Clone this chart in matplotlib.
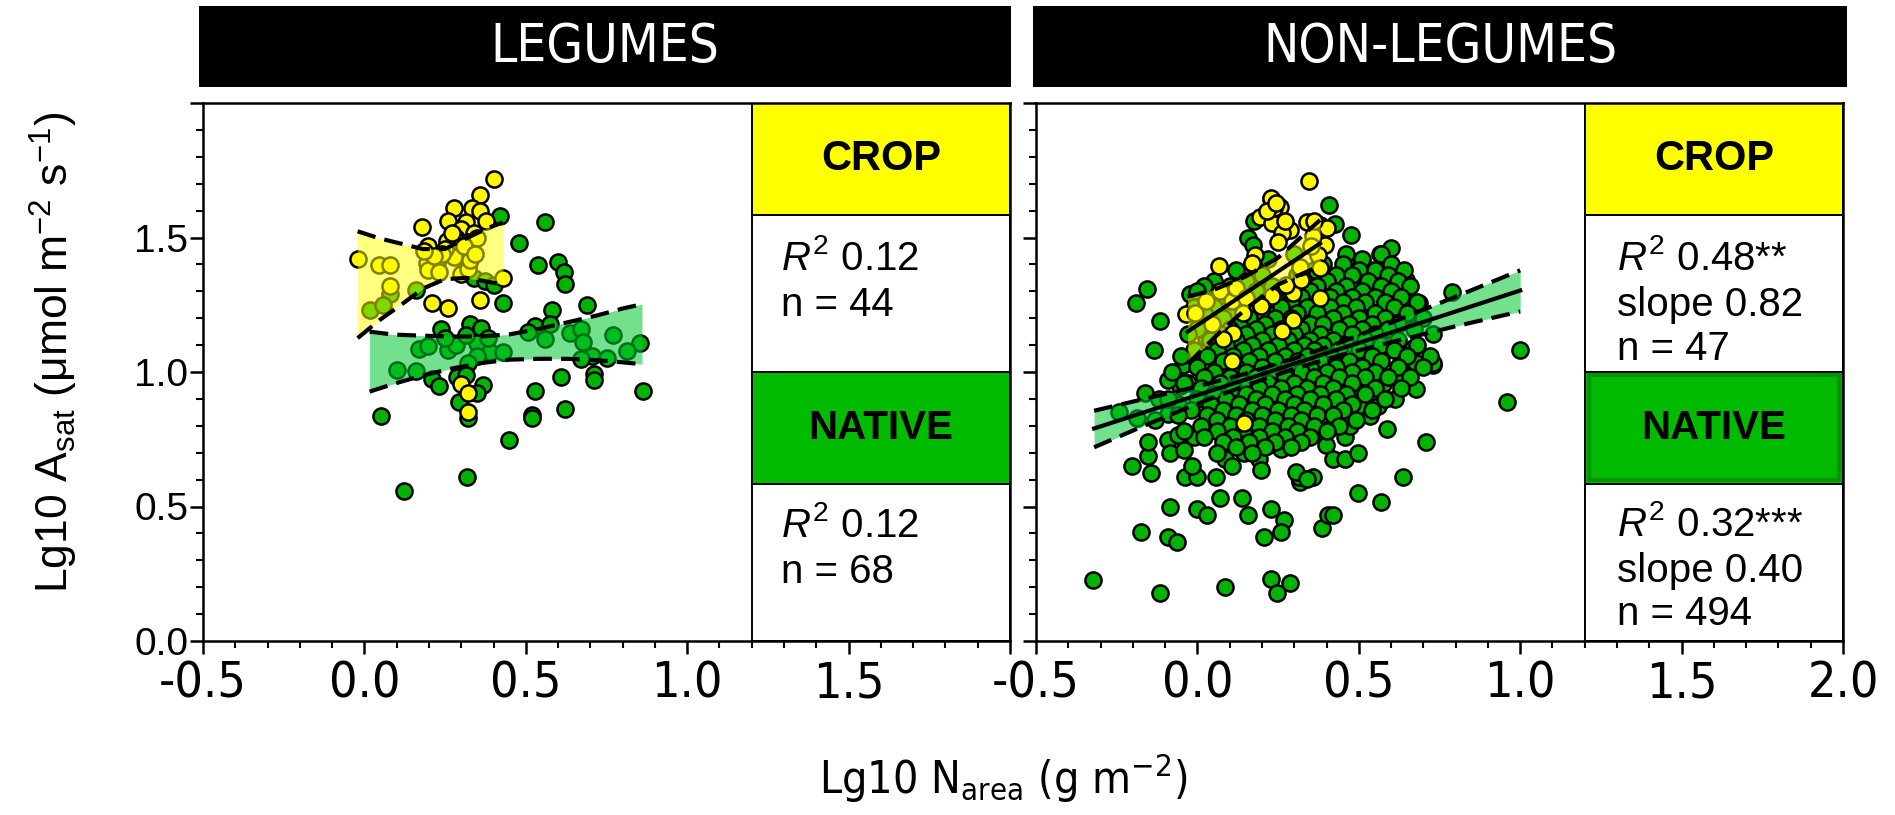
import numpy as np
import matplotlib
matplotlib.use('Agg')
import matplotlib.pyplot as plt
from matplotlib import font_manager as fm
from matplotlib.font_manager import FontProperties
from matplotlib.patches import Rectangle
from matplotlib.ticker import MultipleLocator


def has_font(name):
    try:
        fm.findfont(FontProperties(family=name), fallback_to_default=False)
        return True
    except Exception:
        return False


def find_narrow_file():
    best = None
    best_rank = 99
    prefs = ['liberation', 'arial', 'nimbus', 'dejavu', 'noto sans', 'roboto', 'open sans', 'lato']
    for f in fm.fontManager.ttflist:
        fn = f.fname.lower()
        nm = f.name.lower()
        narrow = ('narrow' in fn or 'condensed' in fn or 'narrow' in nm or 'condensed' in nm
                  or str(f.stretch).lower() in ('condensed', 'semi-condensed'))
        if not narrow:
            continue
        if 'bold' in fn or 'italic' in fn or 'oblique' in fn or 'light' in fn or 'black' in fn \
                or 'thin' in fn or 'medium' in fn or 'semi' in fn or 'extra' in fn:
            continue
        if f.style != 'normal':
            continue
        rank = len(prefs)
        for i, p in enumerate(prefs):
            if p in nm or p.replace(' ', '') in fn:
                rank = i
                break
        if rank < best_rank:
            best_rank = rank
            best = f.fname
    return best


SANS = 'Liberation Sans' if has_font('Liberation Sans') else 'DejaVu Sans'
NARROW_FILE = find_narrow_file()
HAVE_NARROW = NARROW_FILE is not None


def narrow_fp(size):
    if HAVE_NARROW:
        return FontProperties(fname=NARROW_FILE, size=size)
    return FontProperties(family=SANS, size=size)


plt.rcParams['font.family'] = [SANS, 'DejaVu Sans']
plt.rcParams['mathtext.fontset'] = 'custom'
plt.rcParams['mathtext.rm'] = SANS
plt.rcParams['mathtext.it'] = SANS + ':italic'
plt.rcParams['mathtext.bf'] = SANS + ':bold'

# ---------------- data ----------------
panel_titles = ['LEGUMES', 'NON-LEGUMES']
x_tick_vals = [-0.5, 0.0, 0.5, 1.0, 1.5, 2.0]
x_tick_labels_left = ['-0.5', '0.0', '0.5', '1.0', '1.5', '']
x_tick_labels_right = ['-0.5', '0.0', '0.5', '1.0', '1.5', '2.0']
y_tick_vals = [0.0, 0.5, 1.0, 1.5, 2.0]
y_tick_labels = ['0.0', '0.5', '1.0', '1.5', '']

# Legumes - crop (yellow)
leg_crop_x = [0.401, 0.359, 0.279, 0.333, 0.359, 0.260, 0.316, 0.378, 0.178, 0.300,
              0.339, 0.283, 0.255, 0.198, 0.316, 0.277, -0.021, 0.046, 0.078, 0.193,
              0.226, 0.198, 0.232, 0.300, 0.322, 0.429, 0.078, 0.209, 0.260, 0.359,
              0.300, 0.320, 0.320, 0.249, 0.294, 0.328, 0.322, 0.271, 0.350, 0.240,
              0.310, 0.216, 0.344, 0.185]
leg_crop_y = [1.719, 1.658, 1.609, 1.609, 1.600, 1.560, 1.556, 1.563, 1.539, 1.530,
              1.517, 1.497, 1.486, 1.470, 1.457, 1.428, 1.420, 1.397, 1.397, 1.407,
              1.407, 1.380, 1.371, 1.364, 1.384, 1.351, 1.318, 1.258, 1.238, 1.269,
              0.956, 0.921, 0.852, 1.457, 1.483, 1.417, 1.483, 1.517, 1.497, 1.440,
              1.470, 1.430, 1.440, 1.450]

# Legumes - native (green)
leg_nat_x = [0.420, 0.561, 0.480, 0.538, 0.600, 0.617, 0.620, 0.429, 0.581, 0.690,
             0.328, 0.361, 0.238, 0.530, 0.575, 0.508, 0.558, 0.637, 0.671, 0.770,
             0.677, 0.854, 0.812, 0.705, 0.671, 0.752, 0.350, 0.390, 0.429, 0.350,
             0.322, 0.170, 0.198, 0.260, 0.283, 0.100, 0.159, 0.209, 0.232, 0.288,
             0.316, 0.367, 0.350, 0.294, 0.320, 0.609, 0.711, 0.711, 0.863, 0.530,
             0.620, 0.519, 0.519, 0.050, 0.449, 0.319, 0.122, 0.078, 0.159, 0.016,
             0.057, 0.322, 0.339, 0.373, 0.401, 0.249, 0.316, 0.384]
leg_nat_y = [1.579, 1.559, 1.481, 1.397, 1.408, 1.371, 1.328, 1.258, 1.232, 1.249,
             1.179, 1.163, 1.159, 1.172, 1.179, 1.150, 1.122, 1.146, 1.159, 1.139,
             1.113, 1.109, 1.079, 1.060, 1.049, 1.053, 1.106, 1.073, 1.073, 1.060,
             1.033, 1.086, 1.097, 1.083, 1.102, 1.009, 1.004, 0.974, 0.947, 0.980,
             0.987, 0.951, 0.921, 0.887, 0.828, 0.980, 0.993, 0.970, 0.930, 0.930,
             0.861, 0.841, 0.828, 0.838, 0.748, 0.609, 0.559, 1.291, 1.305, 1.232,
             1.248, 1.397, 1.351, 1.338, 1.325, 1.126, 1.139, 1.126]

# Legumes confidence bands
leg_crop_ci_x = [-0.021, 0.046, 0.114, 0.181, 0.249, 0.316, 0.384, 0.429]
leg_crop_ci_hi = [1.523, 1.497, 1.477, 1.457, 1.457, 1.497, 1.536, 1.556]
leg_crop_ci_lo = [1.126, 1.192, 1.250, 1.310, 1.345, 1.350, 1.335, 1.325]
leg_nat_ci_x = [0.016, 0.091, 0.181, 0.271, 0.361, 0.450, 0.540, 0.630, 0.720, 0.800, 0.860]
leg_nat_ci_hi = [1.150, 1.139, 1.135, 1.132, 1.132, 1.140, 1.160, 1.185, 1.210, 1.236, 1.252]
leg_nat_ci_lo = [0.927, 0.956, 0.987, 1.013, 1.033, 1.046, 1.049, 1.049, 1.044, 1.036, 1.029]

# Non-legumes - crop (yellow)
nl_crop_x = [0.347, 0.227, 0.255, 0.193, 0.230, 0.286, 0.261, 0.250, 0.338, 0.178,
             0.168, 0.068, -0.034, 0.297, 0.230, 0.198, 0.297, 0.261, 0.111, 0.080,
             0.106, 0.276, 0.379, 0.400, 0.395, 0.374, 0.379, 0.322, 0.322, 0.379,
             0.358, 0.144, 0.318, 0.362, 0.236, -0.008, 0.028, 0.070, 0.106, 0.121,
             0.152, 0.045, 0.140, 0.215, 0.245, 0.352, 0.270]
nl_crop_y = [1.709, 1.646, 1.615, 1.578, 1.553, 1.528, 1.516, 1.485, 1.559, 1.436,
             1.405, 1.393, 1.214, 1.294, 1.282, 1.245, 1.195, 1.152, 1.146, 1.121,
             1.041, 1.325, 1.547, 1.535, 1.473, 1.436, 1.386, 1.374, 1.343, 1.275,
             1.504, 0.811, 1.391, 1.563, 1.609, 1.220, 1.263, 1.300, 1.263, 1.313,
             1.275, 1.180, 1.220, 1.600, 1.630, 1.470, 1.560]

# Non-legumes - native (green): scattered outer points
nl_nat_outer_x = [-0.323, -0.117, 0.087, 0.227, 0.288, 0.247, -0.174, -0.092, -0.062, -0.085,
                  -0.002, 0.030, 0.069, 0.137, 0.158, 0.227, 0.267, 0.259, 0.206, 0.387,
                  0.404, 0.419, 0.496, 0.568, 0.637, 0.708, 0.318, 0.316, 0.359, 0.307,
                  0.057, -0.037, -0.002, -0.016, -0.145, -0.203, -0.154, -0.154, -0.092, -0.085,
                  -0.042, -0.060, -0.011, 0.018, 0.087, 0.107, 0.144, 0.190, 0.196, 0.221,
                  0.259, 0.316, 0.359, 0.399, 0.419, 0.456, 0.496, 0.456, 0.408, 0.588,
                  0.611, 0.677, 0.576, 0.611, 0.679, 0.731, 0.668, 0.628, 1.000, 0.960,
                  -0.243, -0.163, -0.186, -0.134, -0.117, -0.191, -0.155, -0.023, -0.046, -0.054,
                  0.408, 0.427, 0.477, 0.565, 0.599, 0.645, 0.576, 0.788, 0.685, 0.507,
                  0.536, 0.444, 0.450, 0.502, 0.158, 0.173, 0.227, 0.175, 0.472, 0.441,
                  0.410, 0.477, 0.508, 0.534, 0.560, 0.575, 0.400, 0.338, 0.488, 0.338,
                  -0.090, -0.120, -0.060, -0.030, -0.090, 0.026, 0.061, 0.000, 0.090, 0.730,
                  0.678]
nl_nat_outer_y = [0.228, 0.179, 0.199, 0.229, 0.216, 0.179, 0.407, 0.388, 0.367, 0.499,
                  0.490, 0.468, 0.530, 0.530, 0.468, 0.490, 0.450, 0.407, 0.388, 0.420,
                  0.470, 0.468, 0.550, 0.517, 0.609, 0.739, 0.592, 0.609, 0.609, 0.629,
                  0.609, 0.609, 0.609, 0.649, 0.626, 0.649, 0.689, 0.738, 0.748, 0.699,
                  0.709, 0.766, 0.758, 0.791, 0.678, 0.649, 0.699, 0.678, 0.636, 0.728,
                  0.715, 0.748, 0.777, 0.728, 0.678, 0.678, 0.698, 0.758, 0.788, 0.788,
                  0.898, 0.938, 0.983, 0.989, 1.026, 1.026, 1.089, 1.026, 1.081, 0.887,
                  0.850, 0.923, 0.830, 1.082, 1.189, 1.256, 1.309, 1.289, 1.026, 0.947,
                  1.619, 1.550, 1.510, 1.440, 1.461, 1.342, 1.321, 1.298, 1.258, 1.400,
                  1.381, 1.351, 1.318, 1.360, 1.497, 1.473, 1.642, 1.563, 0.800, 0.831,
                  0.862, 0.880, 0.862, 0.837, 0.874, 0.954, 0.930, 0.893, 0.942, 0.603,
                  0.845, 0.900, 0.880, 0.960, 0.970, 1.126, 1.179, 1.160, 1.200, 1.035,
                  1.035]

# Non-legumes - native (green): dense core, rows of (y, x values)
nl_nat_core_rows = [
    (1.44, [0.30, 0.46, 0.57]),
    (1.42, [0.22, 0.51]),
    (1.40, [0.17, 0.39, 0.45, 0.60]),
    (1.38, [0.12, 0.36, 0.50, 0.55, 0.64]),
    (1.36, [0.20, 0.31, 0.43, 0.48, 0.59]),
    (1.34, [0.05, 0.15, 0.33, 0.40, 0.53, 0.62]),
    (1.32, [0.02, 0.10, 0.23, 0.37, 0.46, 0.57, 0.66]),
    (1.30, [0.00, 0.18, 0.27, 0.35, 0.43, 0.51, 0.60]),
    (1.28, [0.06, 0.13, 0.24, 0.32, 0.41, 0.48, 0.55, 0.63]),
    (1.26, [0.09, 0.21, 0.29, 0.38, 0.45, 0.52, 0.58, 0.68]),
    (1.24, [-0.01, 0.05, 0.16, 0.26, 0.34, 0.41, 0.49, 0.61]),
    (1.22, [0.02, 0.11, 0.20, 0.31, 0.37, 0.45, 0.55, 0.65]),
    (1.20, [0.08, 0.16, 0.24, 0.29, 0.42, 0.50, 0.58, 0.70]),
    (1.18, [0.04, 0.13, 0.21, 0.35, 0.39, 0.47, 0.54, 0.62]),
    (1.16, [0.00, 0.10, 0.18, 0.26, 0.32, 0.44, 0.51, 0.59, 0.67]),
    (1.14, [-0.03, 0.07, 0.15, 0.23, 0.30, 0.38, 0.48, 0.55, 0.73]),
    (1.12, [0.04, 0.12, 0.20, 0.28, 0.35, 0.42, 0.52, 0.62]),
    (1.10, [0.09, 0.17, 0.25, 0.33, 0.39, 0.46, 0.57, 0.68]),
    (1.08, [-0.01, 0.06, 0.14, 0.22, 0.30, 0.36, 0.44, 0.50, 0.61]),
    (1.06, [-0.05, 0.03, 0.11, 0.19, 0.27, 0.34, 0.41, 0.54, 0.65, 0.72]),
    (1.04, [0.08, 0.16, 0.24, 0.31, 0.38, 0.47, 0.57]),
    (1.02, [0.00, 0.12, 0.20, 0.28, 0.35, 0.43, 0.51, 0.62, 0.70]),
    (1.00, [-0.08, 0.05, 0.15, 0.23, 0.32, 0.40, 0.48, 0.55]),
    (0.98, [0.02, 0.10, 0.18, 0.27, 0.36, 0.44, 0.52, 0.59, 0.66]),
    (0.96, [-0.04, 0.07, 0.14, 0.22, 0.30, 0.39, 0.48]),
    (0.94, [0.01, 0.11, 0.19, 0.26, 0.34, 0.42, 0.55, 0.63]),
    (0.92, [0.05, 0.15, 0.23, 0.31, 0.38, 0.46, 0.52]),
    (0.90, [-0.09, 0.00, 0.09, 0.18, 0.27, 0.35, 0.43, 0.58]),
    (0.88, [0.04, 0.13, 0.21, 0.30, 0.39, 0.48]),
    (0.86, [-0.02, 0.08, 0.17, 0.25, 0.33, 0.45, 0.54]),
    (0.84, [-0.06, 0.03, 0.12, 0.20, 0.29, 0.37, 0.42]),
    (0.82, [-0.13, 0.06, 0.15, 0.24, 0.32, 0.49]),
    (0.80, [0.01, 0.10, 0.19, 0.28, 0.36, 0.44]),
    (0.78, [-0.04, 0.06, 0.14, 0.23, 0.31, 0.40]),
    (0.76, [0.02, 0.11, 0.19, 0.27, 0.35]),
    (0.74, [0.08, 0.16, 0.24, 0.32]),
    (0.72, [0.12, 0.21, 0.29]),
    (0.70, [0.06, 0.17]),
]

# Non-legume fits and confidence bands
nl_crop_ci_x = [-0.03, 0.05, 0.15, 0.25, 0.38]
nl_crop_fit = [1.150, 1.214, 1.294, 1.374, 1.478]
nl_crop_ci_hi = [1.280, 1.305, 1.355, 1.425, 1.565]
nl_crop_ci_lo = [1.030, 1.125, 1.235, 1.325, 1.395]
nl_nat_ci_x = [-0.32, -0.15, 0.0, 0.15, 0.30, 0.45, 0.60, 0.80, 1.0]
nl_nat_fit = [0.790, 0.856, 0.914, 0.972, 1.031, 1.089, 1.147, 1.225, 1.303]
nl_nat_ci_hi = [0.856, 0.904, 0.946, 0.994, 1.050, 1.113, 1.183, 1.280, 1.378]
nl_nat_ci_lo = [0.720, 0.808, 0.882, 0.950, 1.012, 1.065, 1.111, 1.170, 1.225]

# Statistics boxes
leg_crop_stats = [r'$R^2$ 0.12', 'n = 44']
leg_nat_stats = [r'$R^2$ 0.12', 'n = 68']
nl_crop_stats = [r'$R^2$ 0.48**', 'slope 0.82', 'n = 47']
nl_nat_stats = [r'$R^2$ 0.32***', 'slope 0.40', 'n = 494']

# ---------------- style ----------------
GREEN_PT = '#00B300'
YELLOW_PT = '#FFF700'
BOX_YELLOW = '#FFFF00'
BOX_GREEN = '#00BB00'
BAND_YELLOW = '#FFFF00'
BAND_GREEN = '#00C832'
MS = 135
LW_SPINE = 1.8
DASH = (0, (4.5, 2.2))

if HAVE_NARROW:
    HEADER_SIZE, XTICK_SIZE, XLABEL_SIZE = 38, 36, 32
else:
    HEADER_SIZE, XTICK_SIZE, XLABEL_SIZE = 35, 32, 30

W, H = 1895, 815
fig = plt.figure(figsize=(W / 100, H / 100), dpi=100)

axL = fig.add_axes([203 / W, 174 / H, 807 / W, 538 / H])
axR = fig.add_axes([1036 / W, 174 / H, 807 / W, 538 / H])

# header bars
for (x0, x1), title in zip([(199, 1011), (1033, 1847)], panel_titles):
    fig.patches.append(Rectangle((x0 / W, 1 - 87 / H), (x1 - x0) / W, 81 / H,
                                 transform=fig.transFigure, facecolor='black',
                                 edgecolor='none', zorder=0))
    fig.text((x0 + x1) / 2 / W, 1 - 47 / H, title, color='white', ha='center',
             va='center', fontproperties=narrow_fp(HEADER_SIZE))


def style_axes(ax, xlabels, show_y):
    ax.set_xlim(-0.5, 2.0)
    ax.set_ylim(0, 2.0)
    for s in ax.spines.values():
        s.set_linewidth(LW_SPINE)
        s.set_zorder(10)
    ax.set_xticks(x_tick_vals)
    ax.set_xticklabels(xlabels, fontproperties=narrow_fp(XTICK_SIZE))
    ax.set_yticks(y_tick_vals)
    if show_y:
        ax.set_yticklabels(y_tick_labels, fontsize=28)
    else:
        ax.set_yticklabels([''] * len(y_tick_vals))
    ax.xaxis.set_minor_locator(MultipleLocator(0.1))
    ax.yaxis.set_minor_locator(MultipleLocator(0.1))
    ax.tick_params(which='major', direction='out', length=9.5, width=1.8)
    ax.tick_params(which='minor', direction='out', length=5, width=1.5)
    ax.tick_params(axis='x', which='major', pad=4)
    ax.tick_params(axis='y', which='major', pad=1)
    ax.tick_params(top=False, right=False)


def stats_boxes(ax, crop_lines, nat_lines, crop_base, nat_base, tx, nat_border=False):
    ax.add_patch(Rectangle((1.2, 1.585), 0.8, 0.415, facecolor=BOX_YELLOW,
                           edgecolor='black', lw=1.4, zorder=6))
    ax.add_patch(Rectangle((1.2, 1.0), 0.8, 0.585, facecolor='white',
                           edgecolor='black', lw=1.4, zorder=6))
    ax.add_patch(Rectangle((1.2, 0.585), 0.8, 0.415, facecolor=BOX_GREEN,
                           edgecolor='black', lw=1.4, zorder=6))
    if nat_border:
        ax.add_patch(Rectangle((1.212, 0.597), 0.776, 0.391, facecolor='none',
                               edgecolor='#009400', lw=3, zorder=6.5))
    ax.add_patch(Rectangle((1.2, 0.0), 0.8, 0.585, facecolor='white',
                           edgecolor='black', lw=1.4, zorder=6))
    ax.text(1.6, 1.79, 'CROP', ha='center', va='center', fontsize=30,
            fontweight='bold', zorder=7)
    ax.text(1.6, 0.79, 'NATIVE', ha='center', va='center', fontsize=29,
            fontweight='bold', zorder=7)
    for line, yb in zip(crop_lines, crop_base):
        ax.text(tx, yb, line, ha='left', va='baseline', fontsize=29, zorder=7)
    for line, yb in zip(nat_lines, nat_base):
        ax.text(tx, yb, line, ha='left', va='baseline', fontsize=29, zorder=7)


# ---------------- left panel ----------------
style_axes(axL, x_tick_labels_left, True)
axL.scatter(leg_nat_x, leg_nat_y, s=MS, facecolor=GREEN_PT, edgecolor='black',
            linewidth=1.8, zorder=2)
axL.scatter(leg_crop_x, leg_crop_y, s=MS, facecolor=YELLOW_PT, edgecolor='black',
            linewidth=1.8, zorder=2.5)
axL.fill_between(leg_crop_ci_x, leg_crop_ci_lo, leg_crop_ci_hi, color=BAND_YELLOW,
                 alpha=0.5, lw=0, zorder=3)
axL.fill_between(leg_nat_ci_x, leg_nat_ci_lo, leg_nat_ci_hi, color=BAND_GREEN,
                 alpha=0.55, lw=0, zorder=3)
for xs, ys in [(leg_crop_ci_x, leg_crop_ci_hi), (leg_crop_ci_x, leg_crop_ci_lo),
               (leg_nat_ci_x, leg_nat_ci_hi), (leg_nat_ci_x, leg_nat_ci_lo)]:
    axL.plot(xs, ys, color='black', lw=3, linestyle=DASH, zorder=4)
stats_boxes(axL, leg_crop_stats, leg_nat_stats, [1.378, 1.209], [0.385, 0.215], 1.29)

# ---------------- right panel ----------------
style_axes(axR, x_tick_labels_right, False)
core_x = [x for yv, xs in nl_nat_core_rows for x in xs]
core_y = [yv for yv, xs in nl_nat_core_rows for x in xs]
axR.scatter(nl_nat_outer_x + core_x, nl_nat_outer_y + core_y, s=MS, facecolor=GREEN_PT,
            edgecolor='black', linewidth=1.8, zorder=2)
axR.scatter(nl_crop_x, nl_crop_y, s=MS, facecolor=YELLOW_PT, edgecolor='black',
            linewidth=1.8, zorder=2.5)
axR.fill_between(nl_crop_ci_x, nl_crop_ci_lo, nl_crop_ci_hi, color=BAND_YELLOW,
                 alpha=0.5, lw=0, zorder=3)
axR.fill_between(nl_nat_ci_x, nl_nat_ci_lo, nl_nat_ci_hi, color=BAND_GREEN,
                 alpha=0.55, lw=0, zorder=3)
for xs, ys in [(nl_crop_ci_x, nl_crop_ci_hi), (nl_crop_ci_x, nl_crop_ci_lo),
               (nl_nat_ci_x, nl_nat_ci_hi), (nl_nat_ci_x, nl_nat_ci_lo)]:
    axR.plot(xs, ys, color='black', lw=3, linestyle=DASH, zorder=4)
axR.plot(nl_crop_ci_x, nl_crop_fit, color='black', lw=3, zorder=4)
axR.plot(nl_nat_ci_x, nl_nat_fit, color='black', lw=3, zorder=4)
stats_boxes(axR, nl_crop_stats, nl_nat_stats, [1.378, 1.209, 1.046],
            [0.391, 0.220, 0.059], 1.30, nat_border=True)

# ---------------- axis titles ----------------
fig.text(54 / W, 1 - 352 / H,
         r'Lg10 A$_{\mathdefault{sat}}$ ($\mathdefault{\mu}$mol m$^{\mathdefault{-2}}$ s$^{\mathdefault{-1}}$)',
         rotation=90, ha='center', va='center', fontsize=32)
fig.text(1003 / W, 1 - 778 / H,
         r'Lg10 N$_{\mathdefault{area}}$ (g m$^{\mathdefault{-2}}$)',
         ha='center', va='center', fontproperties=narrow_fp(XLABEL_SIZE))

fig.savefig('out.png', dpi=100)
